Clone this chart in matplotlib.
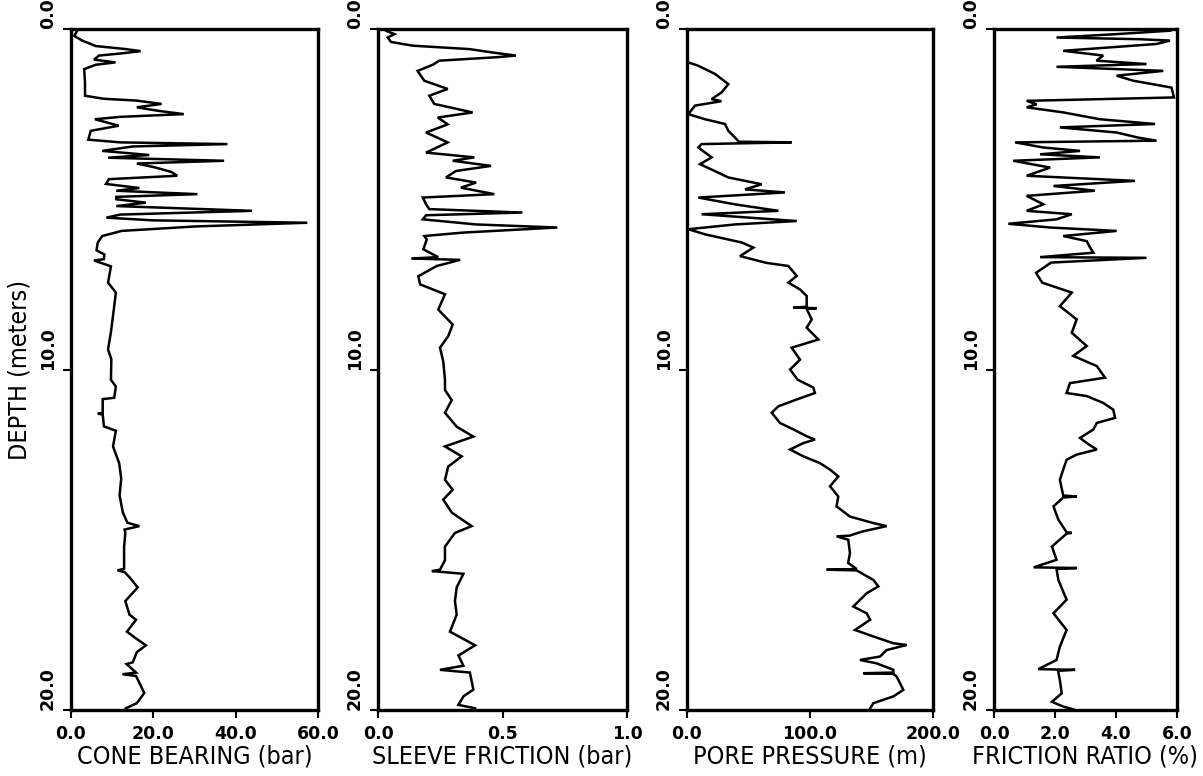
import numpy as np
import matplotlib
matplotlib.use("Agg")
import matplotlib.pyplot as plt

# =========================
# DATA (depth in m)
# =========================
CB_DEPTH = [0.0, 0.05, 0.2, 0.34, 0.5, 0.59, 0.65, 0.72, 0.78, 0.9,
            0.98, 1.05, 1.18, 1.57, 1.96, 2.05, 2.1, 2.2, 2.3, 2.4,
            2.5, 2.58, 2.65, 2.84, 2.99, 3.25, 3.33, 3.38, 3.45, 3.58,
            3.7, 3.78, 3.87, 3.95, 4.07, 4.2, 4.31, 4.41, 4.55, 4.67,
            4.75, 4.85, 4.93, 5.0, 5.1, 5.2, 5.34, 5.45, 5.54, 5.62,
            5.69, 5.8, 5.93, 6.08, 6.27, 6.5, 6.62, 6.76, 6.8, 6.97,
            7.45, 7.74, 8.33, 8.9, 9.41, 9.7, 10.3, 10.5, 10.83, 10.87,
            11.27, 11.3, 11.32, 11.67, 11.8, 12.26, 12.75, 13.2, 13.7, 14.2,
            14.5, 14.6, 14.7, 14.8, 15.2, 15.85, 15.9, 15.95, 16.1, 16.4,
            16.8, 17.2, 17.35, 17.7, 17.9, 18.1, 18.3, 18.6, 18.65, 18.9,
            18.95, 19.0, 19.5, 19.8, 19.95]
CB_VALUE = [0.5, 1.5, 0.8, 2.7, 6.0, 13.3, 16.9, 12.0, 6.8, 5.6,
            10.8, 6.0, 3.2, 3.4, 3.4, 8.0, 15.7, 22.0, 16.0, 21.0,
            27.4, 12.0, 5.8, 11.6, 4.8, 4.2, 12.0, 38.0, 15.0, 7.6,
            19.0, 9.0, 37.2, 16.0, 20.6, 24.4, 25.8, 9.2, 8.5, 16.6,
            11.0, 30.7, 11.0, 11.0, 18.2, 11.0, 44.0, 12.0, 8.6, 20.0,
            57.4, 30.0, 12.3, 7.6, 6.5, 6.2, 8.1, 8.0, 5.6, 9.7,
            9.0, 10.9, 10.3, 9.7, 9.0, 9.8, 9.7, 10.9, 10.5, 7.7,
            7.7, 6.5, 7.7, 8.0, 10.9, 10.2, 11.7, 12.2, 11.8, 12.6,
            13.7, 16.6, 13.0, 13.2, 12.9, 12.9, 11.3, 13.0, 14.2, 16.2,
            13.2, 14.2, 15.8, 13.6, 15.8, 18.2, 16.0, 15.0, 13.5, 15.8,
            12.5, 15.8, 17.8, 16.0, 13.3]

SF_DEPTH = [0.0, 0.05, 0.15, 0.25, 0.38, 0.49, 0.59, 0.69, 0.78, 0.83,
            0.93, 1.05, 1.23, 1.52, 1.76, 1.96, 2.2, 2.45, 2.6, 2.8,
            3.04, 3.33, 3.63, 3.77, 3.87, 4.02, 4.17, 4.36, 4.51, 4.66,
            4.85, 4.95, 5.15, 5.29, 5.39, 5.47, 5.59, 5.74, 5.83, 5.98,
            6.08, 6.18, 6.47, 6.7, 6.74, 6.78, 6.96, 7.26, 7.5, 7.79,
            8.24, 8.68, 9.02, 9.36, 9.76, 10.3, 10.6, 10.9, 11.27, 11.68,
            11.97, 12.26, 12.55, 12.85, 13.24, 13.53, 13.82, 14.2, 14.6, 14.8,
            15.2, 15.6, 15.88, 15.92, 16.0, 16.4, 16.8, 17.2, 17.7, 18.1,
            18.4, 18.7, 18.82, 18.9, 19.4, 19.6, 19.85, 19.95]
SF_VALUE = [0.03, 0.032, 0.066, 0.039, 0.052, 0.139, 0.367, 0.46, 0.554, 0.474,
            0.246, 0.22, 0.159, 0.186, 0.28, 0.206, 0.226, 0.38, 0.24, 0.28,
            0.193, 0.28, 0.193, 0.387, 0.3, 0.454, 0.313, 0.273, 0.394, 0.333,
            0.467, 0.18, 0.193, 0.206, 0.58, 0.193, 0.18, 0.394, 0.72, 0.34,
            0.186, 0.196, 0.182, 0.242, 0.135, 0.33, 0.236, 0.162, 0.169, 0.269,
            0.242, 0.30, 0.282, 0.249, 0.262, 0.269, 0.269, 0.296, 0.269, 0.316,
            0.383, 0.269, 0.336, 0.282, 0.269, 0.30, 0.262, 0.296, 0.376, 0.309,
            0.269, 0.269, 0.249, 0.216, 0.343, 0.316, 0.309, 0.316, 0.289, 0.39,
            0.323, 0.343, 0.249, 0.369, 0.383, 0.343, 0.323, 0.39]

PP_DEPTH = [0.0, 0.95, 0.98, 1.08, 1.32, 1.62, 1.86, 2.06, 2.12, 2.25,
            2.5, 2.65, 2.79, 2.99, 3.24, 3.31, 3.33, 3.36, 3.38, 3.48,
            3.77, 3.97, 4.22, 4.36, 4.56, 4.71, 4.8, 4.95, 5.15, 5.34,
            5.44, 5.64, 5.74, 5.88, 6.03, 6.27, 6.42, 6.67, 6.82, 6.87,
            6.96, 7.25, 7.45, 7.65, 7.84, 8.16, 8.18, 8.2, 8.22, 8.53,
            8.77, 9.12, 9.36, 9.71, 10.0, 10.3, 10.53, 10.69, 10.88, 11.08,
            11.27, 11.57, 11.76, 11.96, 12.06, 12.16, 12.35, 12.55, 12.75, 12.94,
            13.14, 13.43, 13.73, 14.02, 14.32, 14.51, 14.6, 14.75, 14.88, 14.9,
            15.0, 15.39, 15.68, 15.86, 15.88, 15.9, 16.18, 16.37, 16.57, 16.96,
            17.16, 17.35, 17.65, 17.84, 18.04, 18.09, 18.24, 18.43, 18.53, 18.63,
            18.82, 18.9, 18.92, 18.94, 19.02, 19.41, 19.6, 19.8, 19.95]
PP_VALUE = [0.0, 0.0, 1.1, 9.2, 22.8, 33.6, 28.2, 20.0, 28.0, 6.5,
            1.1, 14.6, 30.9, 33.6, 40.4, 42.0, 85.0, 40.0, 11.9, 9.2,
            20.0, 10.6, 25.5, 33.6, 60.7, 47.2, 79.7, 9.2, 39.0, 74.3,
            11.9, 89.2, 39.0, 1.1, 14.6, 44.5, 54.0, 43.1, 59.3, 64.8,
            82.4, 89.2, 82.4, 91.9, 97.3, 97.3, 86.5, 105.5, 97.3, 101.4,
            97.3, 106.8, 85.1, 91.9, 83.8, 90.0, 102.7, 104.0, 89.2, 74.3,
            68.9, 75.6, 86.5, 97.3, 104.0, 94.6, 83.8, 94.6, 108.1, 116.3,
            123.0, 116.3, 123.0, 121.6, 132.5, 151.5, 162.3, 143.4, 132.0, 121.6,
            131.1, 132.5, 131.0, 137.9, 113.5, 137.9, 151.5, 155.6, 146.1, 135.2,
            146.1, 148.9, 136.6, 151.5, 167.8, 178.6, 162.3, 156.9, 140.6, 154.2,
            167.8, 167.8, 143.4, 167.8, 170.5, 175.9, 167.8, 151.5, 148.9]

FR_DEPTH = [0.0, 0.05, 0.15, 0.25, 0.3, 0.34, 0.44, 0.64, 0.78, 0.93,
            1.03, 1.11, 1.23, 1.37, 1.52, 1.72, 2.01, 2.11, 2.21, 2.3,
            2.45, 2.65, 2.79, 2.89, 3.04, 3.19, 3.28, 3.33, 3.48, 3.58,
            3.68, 3.77, 3.87, 4.07, 4.31, 4.46, 4.61, 4.75, 4.9, 5.15,
            5.34, 5.44, 5.59, 5.72, 5.83, 5.93, 6.08, 6.23, 6.42, 6.57,
            6.7, 6.72, 6.86, 7.16, 7.45, 7.74, 8.14, 8.53, 8.92, 9.31,
            9.6, 9.9, 10.24, 10.4, 10.69, 10.78, 10.98, 11.18, 11.42, 11.57,
            11.76, 12.01, 12.16, 12.35, 12.5, 12.65, 12.94, 13.24, 13.7, 13.73,
            13.76, 14.02, 14.41, 14.78, 14.8, 14.82, 15.2, 15.59, 15.81, 15.83,
            15.86, 16.18, 16.76, 17.16, 17.65, 18.14, 18.53, 18.8, 18.82, 18.85,
            19.12, 19.51, 19.76, 19.9, 19.98]
FR_VALUE = [5.9, 5.77, 4.02, 2.05, 4.79, 5.77, 5.33, 2.27, 3.58, 3.36,
            5.0, 2.05, 5.55, 4.02, 4.57, 5.82, 5.9, 1.07, 1.4, 1.07,
            2.27, 3.47, 5.28, 2.16, 4.02, 4.73, 5.33, 0.69, 1.62, 2.82,
            1.51, 3.47, 0.63, 1.84, 1.07, 4.62, 1.95, 3.31, 1.07, 1.62,
            1.07, 2.55, 2.05, 0.47, 1.84, 4.02, 2.27, 3.04, 3.15, 3.26,
            1.51, 5.0, 1.87, 1.38, 1.58, 2.55, 2.16, 2.71, 2.55, 3.04,
            2.6, 3.37, 3.64, 2.49, 2.38, 3.04, 3.58, 3.91, 3.97, 3.37,
            3.26, 2.82, 3.04, 3.37, 2.71, 2.38, 2.27, 2.16, 2.27, 2.71,
            2.27, 1.95, 2.11, 2.38, 2.55, 2.38, 1.9, 2.05, 1.3, 2.71,
            2.05, 2.11, 2.38, 1.95, 2.38, 2.16, 2.05, 1.45, 2.66, 2.1,
            2.16, 2.22, 1.9, 2.27, 2.6]

PANELS = [
    ("CONE BEARING (bar)", CB_DEPTH, CB_VALUE, [0, 20, 40, 60], ["0.0", "20.0", "40.0", "60.0"]),
    ("SLEEVE FRICTION (bar)", SF_DEPTH, SF_VALUE, [0, 0.5, 1.0], ["0.0", "0.5", "1.0"]),
    ("PORE PRESSURE (m)", PP_DEPTH, PP_VALUE, [0, 100, 200], ["0.0", "100.0", "200.0"]),
    ("FRICTION RATIO (%)", FR_DEPTH, FR_VALUE, [0, 2, 4, 6], ["0.0", "2.0", "4.0", "6.0"]),
]
DEPTH_TICKS = [0, 10, 20]
DEPTH_LABELS = ["0.0", "10.0", "20.0"]

# axes boxes in pixels (left, width) on a 1203 x 776 canvas
W, H = 1203, 776
BOXES = [(71, 247), (378, 249), (687, 246), (994, 183)]
TOP, BOTTOM = 29, 710


def draw_panel(fig, box, title, depth, value, xticks, xlabels):
    left, width = box
    ax = fig.add_axes([left / W, 1 - BOTTOM / H, width / W, (BOTTOM - TOP) / H])
    ax.plot(value, depth, color="black", linewidth=1.8, solid_joinstyle="miter")
    ax.set_xlim(xticks[0], xticks[-1])
    ax.set_ylim(20, 0)

    ax.set_xticks(xticks)
    ax.set_xticklabels(xlabels, fontsize=12.5, fontweight="bold")
    ax.set_yticks(DEPTH_TICKS)
    ax.set_yticklabels(DEPTH_LABELS, rotation=90, va="bottom", fontsize=12.5,
                       fontweight="bold")
    ax.tick_params(axis="both", direction="out", length=6, width=1.5, pad=5)
    ax.tick_params(axis="y", pad=4)

    for spine in ax.spines.values():
        spine.set_linewidth(2.4)

    ax.set_xlabel(title, fontsize=18, fontstretch="condensed", labelpad=1)
    return ax


def main():
    plt.rcParams["font.family"] = "DejaVu Sans"
    fig = plt.figure(figsize=(W / 100, H / 100), dpi=100)
    for box, (title, depth, value, xticks, xlabels) in zip(BOXES, PANELS):
        draw_panel(fig, box, title, depth, value, xticks, xlabels)

    fig.text(20 / W, 1 - 370 / H, "DEPTH (meters)", rotation=90, ha="center", va="center",
             fontsize=18, fontstretch="condensed")

    fig.savefig("out.png", dpi=100)
    plt.close(fig)


if __name__ == "__main__":
    main()
